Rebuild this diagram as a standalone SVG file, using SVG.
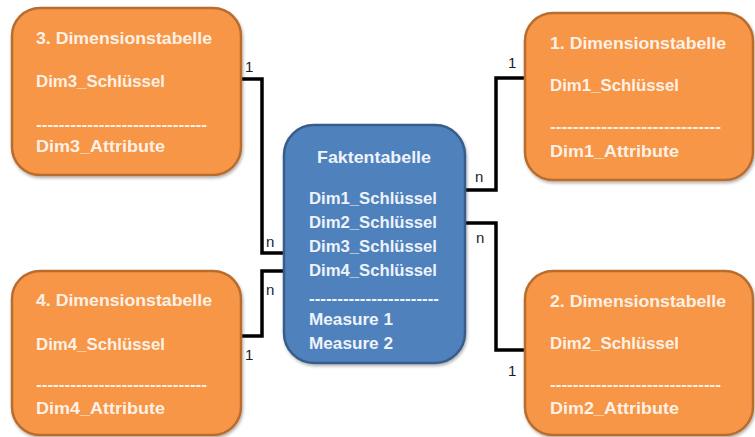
<svg xmlns="http://www.w3.org/2000/svg" width="755" height="437" viewBox="0 0 755 437">
<style>
.dim{fill:#f79646;stroke:#b86d2f;stroke-width:2.5}
.fact{fill:#4f81bd;stroke:#385d8a;stroke-width:2.5}
.t{font-family:"Liberation Sans",Arial,sans-serif;font-weight:bold;font-size:16.5px;fill:#fdf1e6}
.ft{font-family:"Liberation Sans",Arial,sans-serif;font-weight:bold;font-size:16.5px;fill:#eef3fa}
.lbl{font-family:"Liberation Sans",Arial,sans-serif;font-size:15px;fill:#1a1a2e}
.conn{fill:none;stroke:#000;stroke-width:3.5;stroke-linejoin:miter}
</style>
<defs>
<filter id="sh" x="-10%" y="-10%" width="130%" height="130%">
<feDropShadow dx="1" dy="2" stdDeviation="1.5" flood-color="#000" flood-opacity="0.3"/>
</filter>
</defs>
<g id="connectors">
<polyline class="conn" points="241,79 262,79 262,253 284,253"/>
<polyline class="conn" points="284,271 262,271 262,336 241,336"/>
<polyline class="conn" points="465,190 496,190 496,78 525,78"/>
<polyline class="conn" points="465,223 496,223 496,350 525,350"/>
<text class="lbl" x="245" y="72">1</text>
<text class="lbl" x="266" y="247">n</text>
<text class="lbl" x="266" y="295">n</text>
<text class="lbl" x="245" y="360">1</text>
<text class="lbl" x="475" y="182">n</text>
<text class="lbl" x="476" y="243">n</text>
<text class="lbl" x="508" y="68">1</text>
<text class="lbl" x="508" y="376">1</text>
</g>
<g id="dim3">
<rect class="dim" x="12" y="8" width="229" height="167" rx="28" filter="url(#sh)"/>
<text class="t" x="36" y="44" textLength="176" lengthAdjust="spacingAndGlyphs">3. Dimensionstabelle</text>
<text class="t" x="36" y="87" textLength="129" lengthAdjust="spacingAndGlyphs">Dim3_Schlüssel</text>
<text class="t" x="36" y="130" textLength="171" lengthAdjust="spacingAndGlyphs">------------------------------</text>
<text class="t" x="36" y="152" textLength="129" lengthAdjust="spacingAndGlyphs">Dim3_Attribute</text>
</g>
<g id="dim1">
<rect class="dim" x="525" y="13" width="228" height="167" rx="28" filter="url(#sh)"/>
<text class="t" x="550" y="49" textLength="176" lengthAdjust="spacingAndGlyphs">1. Dimensionstabelle</text>
<text class="t" x="550" y="91" textLength="129" lengthAdjust="spacingAndGlyphs">Dim1_Schlüssel</text>
<text class="t" x="550" y="132" textLength="171" lengthAdjust="spacingAndGlyphs">------------------------------</text>
<text class="t" x="550" y="157" textLength="129" lengthAdjust="spacingAndGlyphs">Dim1_Attribute</text>
</g>
<g id="dim4">
<rect class="dim" x="12" y="271" width="229" height="164" rx="28" filter="url(#sh)"/>
<text class="t" x="36" y="306" textLength="176" lengthAdjust="spacingAndGlyphs">4. Dimensionstabelle</text>
<text class="t" x="36" y="350" textLength="129" lengthAdjust="spacingAndGlyphs">Dim4_Schlüssel</text>
<text class="t" x="36" y="390" textLength="171" lengthAdjust="spacingAndGlyphs">------------------------------</text>
<text class="t" x="36" y="414" textLength="129" lengthAdjust="spacingAndGlyphs">Dim4_Attribute</text>
</g>
<g id="dim2">
<rect class="dim" x="525" y="271" width="228" height="164" rx="28" filter="url(#sh)"/>
<text class="t" x="550" y="307" textLength="176" lengthAdjust="spacingAndGlyphs">2. Dimensionstabelle</text>
<text class="t" x="550" y="349" textLength="129" lengthAdjust="spacingAndGlyphs">Dim2_Schlüssel</text>
<text class="t" x="550" y="390" textLength="171" lengthAdjust="spacingAndGlyphs">------------------------------</text>
<text class="t" x="550" y="414" textLength="129" lengthAdjust="spacingAndGlyphs">Dim2_Attribute</text>
</g>
<g id="fakt">
<rect class="fact" x="284" y="125" width="181" height="238" rx="30" filter="url(#sh)"/>
<text class="ft" x="374" y="163" text-anchor="middle" textLength="114" lengthAdjust="spacingAndGlyphs">Faktentabelle</text>
<text class="ft" x="309" y="204" textLength="128" lengthAdjust="spacingAndGlyphs">Dim1_Schlüssel</text>
<text class="ft" x="309" y="228" textLength="128" lengthAdjust="spacingAndGlyphs">Dim2_Schlüssel</text>
<text class="ft" x="309" y="252" textLength="128" lengthAdjust="spacingAndGlyphs">Dim3_Schlüssel</text>
<text class="ft" x="309" y="276" textLength="128" lengthAdjust="spacingAndGlyphs">Dim4_Schlüssel</text>
<text class="ft" x="309" y="304" textLength="130" lengthAdjust="spacingAndGlyphs">-----------------------</text>
<text class="ft" x="309" y="325" textLength="84" lengthAdjust="spacingAndGlyphs">Measure 1</text>
<text class="ft" x="309" y="349" textLength="84" lengthAdjust="spacingAndGlyphs">Measure 2</text>
</g>
</svg>
